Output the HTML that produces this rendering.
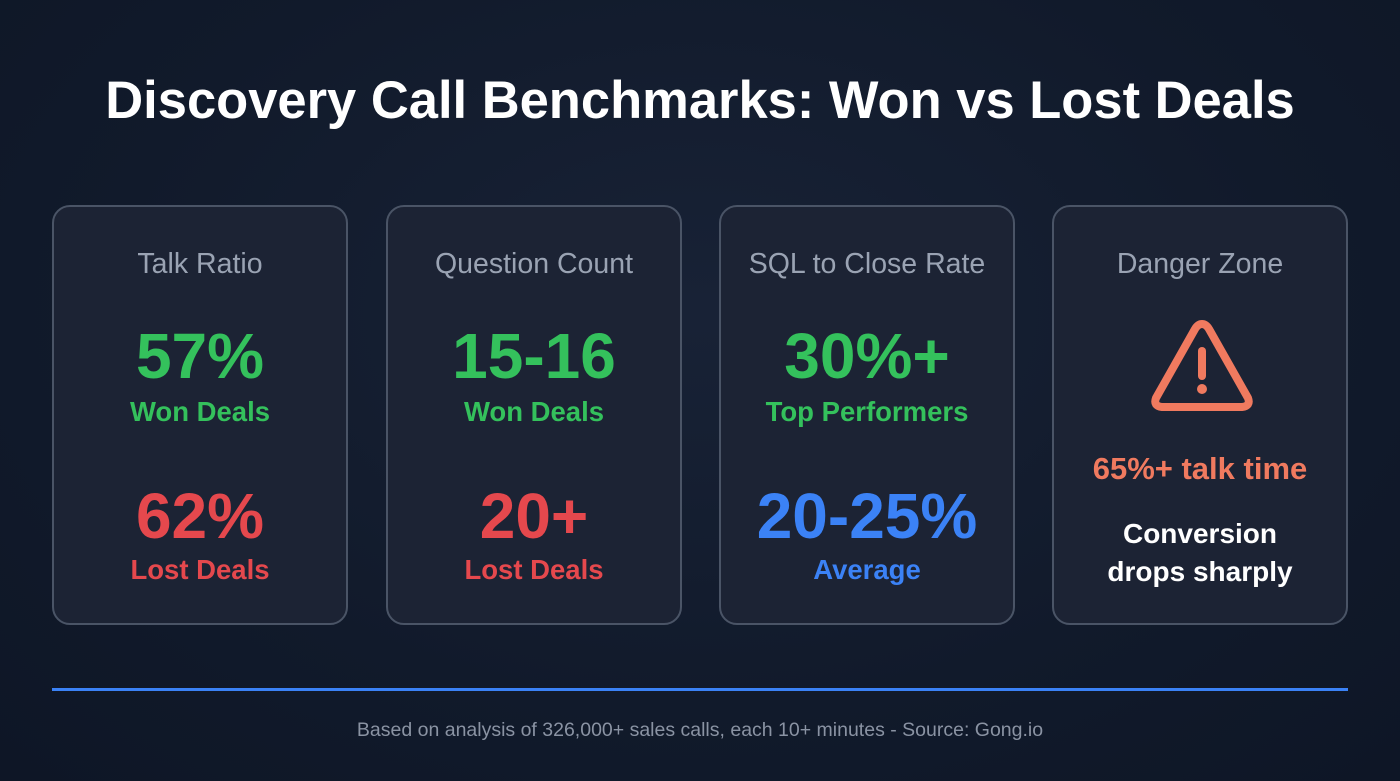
<!DOCTYPE html>
<html><head><meta charset="utf-8"><style>
body{margin:0;width:1400px;height:781px;background:radial-gradient(ellipse at 50% 40%,#182236 0%,#111a2b 60%,#0e1626 100%);font-family:"Liberation Sans",sans-serif;position:relative;overflow:hidden}
.t{position:absolute;left:0;width:100%;text-align:center;white-space:nowrap}
h1{position:absolute;top:70px;left:0;width:100%;margin:0;text-align:center;color:#fff;font-size:52.5px;font-weight:bold}
.card{position:absolute;top:205px;width:292px;height:416px;border:2px solid #4a5466;border-radius:18px;background:#1c2334}
.lab{top:41px;font-size:28.5px;color:#9aa3b3}
.big{font-size:64px;font-weight:bold}
.sub{font-size:27.5px;font-weight:bold}
.g{color:#34c15c}.r{color:#e5484d}.b{color:#3b82f6}.o{color:#f07a5f}.w{color:#fff}
</style></head><body>
<h1>Discovery Call Benchmarks: Won vs Lost Deals</h1>

<div class="card" style="left:52px">
<div class="t lab">Talk Ratio</div>
<div class="t big g" style="top:112px">57%</div>
<div class="t sub g" style="top:189px">Won Deals</div>
<div class="t big r" style="top:272px">62%</div>
<div class="t sub r" style="top:347px">Lost Deals</div>
</div>

<div class="card" style="left:386px">
<div class="t lab">Question Count</div>
<div class="t big g" style="top:112px">15-16</div>
<div class="t sub g" style="top:189px">Won Deals</div>
<div class="t big r" style="top:272px">20+</div>
<div class="t sub r" style="top:347px">Lost Deals</div>
</div>

<div class="card" style="left:719px">
<div class="t lab">SQL to Close Rate</div>
<div class="t big g" style="top:112px">30%+</div>
<div class="t sub g" style="top:189px">Top Performers</div>
<div class="t big b" style="top:272px">20-25%</div>
<div class="t sub b" style="top:347px">Average</div>
</div>

<div class="card" style="left:1052px">
<div class="t lab">Danger Zone</div>
<svg style="position:absolute;left:96px;top:111px" width="104" height="96" viewBox="0 0 104 96">
<path d="M52 6 Q56 6 59 11 L98 80 Q101 88 92 89 L12 89 Q3 88 6 80 L45 11 Q48 6 52 6 Z" fill="none" stroke="#f07a5f" stroke-width="8" stroke-linejoin="round"/>
<line x1="52" y1="33" x2="52" y2="58" stroke="#f07a5f" stroke-width="8" stroke-linecap="round"/>
<circle cx="52" cy="71" r="5" fill="#f07a5f"/>
</svg>
<div class="t sub o" style="top:244px;font-size:31px">65%+ talk time</div>
<div class="t sub w" style="top:308px;line-height:38px;font-size:28px">Conversion<br>drops sharply</div>
</div>

<div style="position:absolute;left:52px;top:688px;width:1296px;height:3px;background:#3b82f6"></div>
<div class="t" style="top:719px;font-size:19.5px;color:#8a93a3">Based on analysis of 326,000+ sales calls, each 10+ minutes - Source: Gong.io</div>
</body></html>
